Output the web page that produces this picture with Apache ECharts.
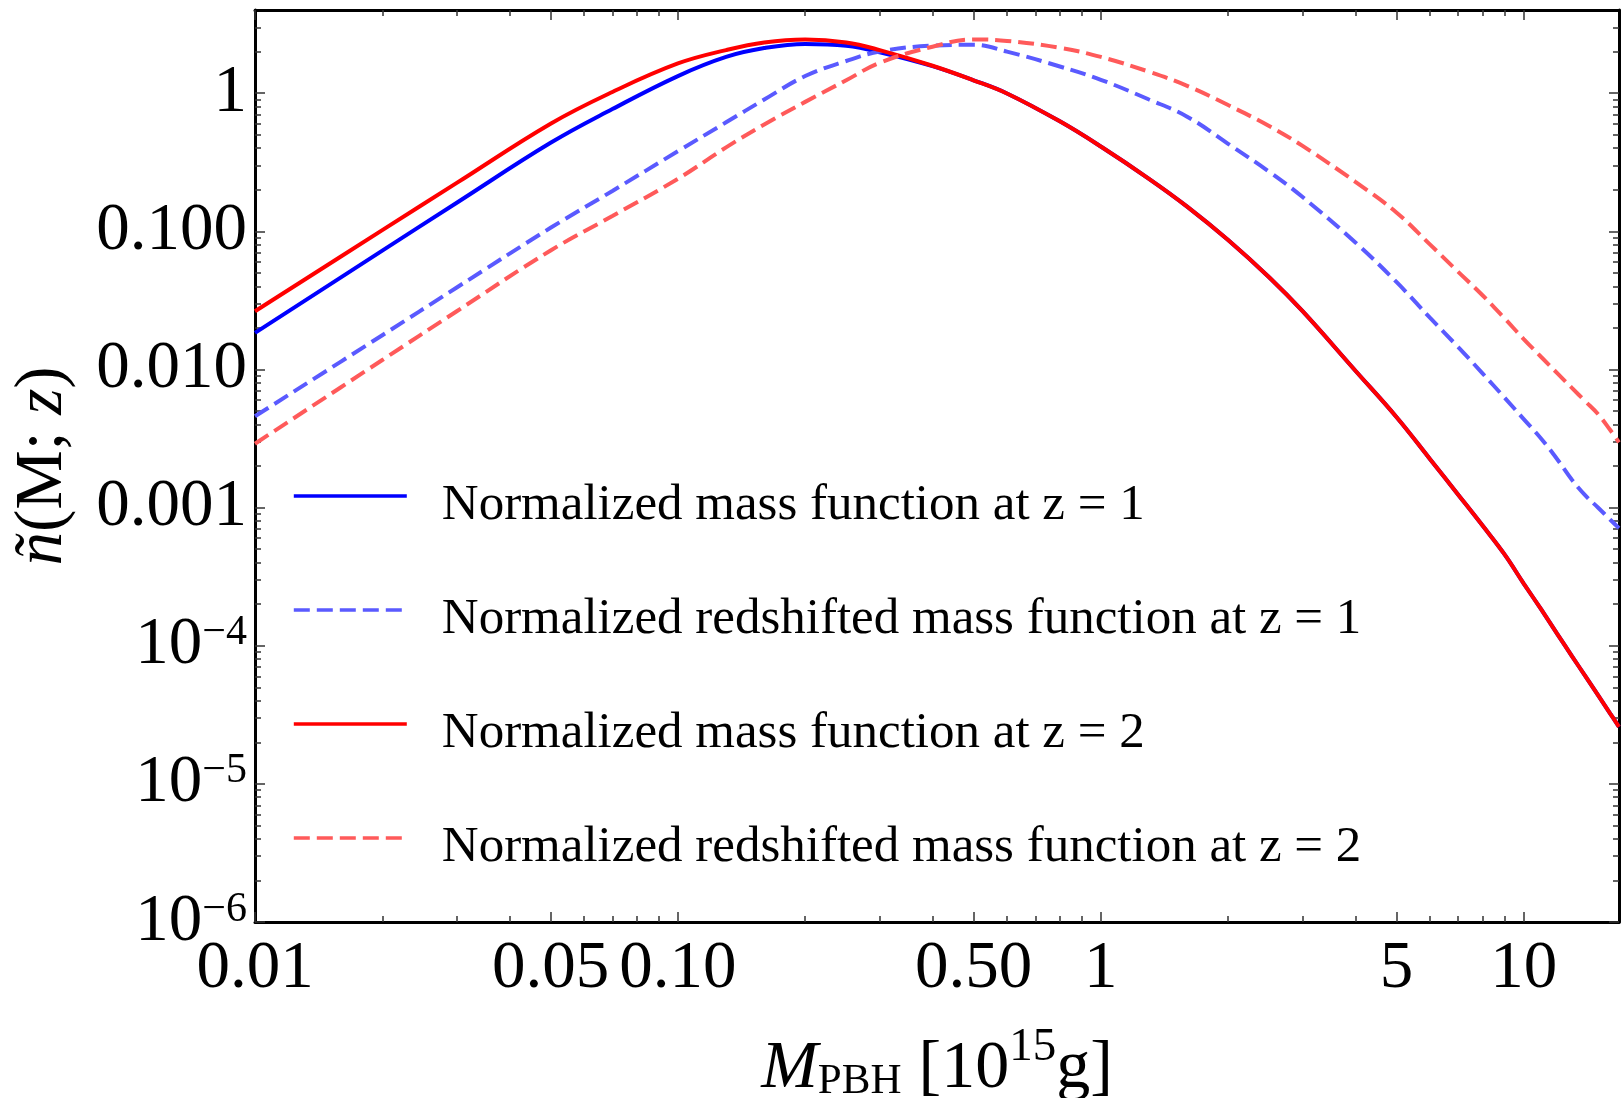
<!DOCTYPE html>
<html>
<head>
<meta charset="utf-8">
<script src="https://cdn.jsdelivr.net/npm/echarts@6/dist/echarts.min.js"></script>
<style>
html,body{margin:0;padding:0;background:#fff;}
#chart{width:1622px;height:1098px;}
</style>
</head>
<body>
<div id="chart"></div>
<script>
// ---------------- data ----------------
const mass = [0.01, 0.02, 0.03, 0.05, 0.07, 0.1, 0.13, 0.16, 0.2, 0.25, 0.3, 0.4, 0.5, 0.6, 0.8, 1,
  1.3, 1.6, 2, 2.5, 3, 4, 5, 6, 7, 8, 9, 10, 11, 12, 13, 14, 15, 16, 16.8];

const massFnZ1 = [0.0184, 0.0724, 0.161, 0.437, 0.767, 1.33, 1.83, 2.12, 2.27, 2.20, 1.98, 1.57, 1.24, 0.995, 0.625, 0.411,
  0.240, 0.151, 0.0865, 0.0465, 0.0264, 0.00979, 0.00453, 0.00225, 0.00124, 0.000738, 0.00046, 0.000282, 0.000183, 0.000122, 0.0000841, 0.000060, 0.0000437, 0.0000324, 0.0000259];

const redshiftedZ1 = [0.00458, 0.0177, 0.0392, 0.106, 0.196, 0.380, 0.615, 0.899, 1.33, 1.71, 2.00, 2.21, 2.24, 2.00, 1.56, 1.25,
  0.90, 0.676, 0.43, 0.27, 0.177, 0.083, 0.0430, 0.0237, 0.0145, 0.00933, 0.00627, 0.00437, 0.00315, 0.00224, 0.00159, 0.00122, 0.000998, 0.00082, 0.00071];

const massFnZ2 = [0.0264, 0.102, 0.224, 0.601, 1.02, 1.64, 2.05, 2.33, 2.45, 2.33, 2.05, 1.58, 1.24, 0.995, 0.625, 0.411,
  0.240, 0.151, 0.0865, 0.0465, 0.0264, 0.00979, 0.00453, 0.00225, 0.00124, 0.000738, 0.00046, 0.000282, 0.000183, 0.000122, 0.0000841, 0.000060, 0.0000437, 0.0000324, 0.0000259];

const redshiftedZ2 = [0.0029, 0.0117, 0.0264, 0.0726, 0.129, 0.240, 0.405, 0.594, 0.865, 1.24, 1.66, 2.17, 2.45, 2.39, 2.13, 1.83,
  1.43, 1.13, 0.82, 0.578, 0.415, 0.228, 0.137, 0.0804, 0.0509, 0.0343, 0.0235, 0.0166, 0.0123, 0.0094, 0.00735, 0.00586, 0.00474, 0.00366, 0.00297];

const seriesNames = [
  'Normalized mass function at z = 1',
  'Normalized redshifted mass function at z = 1',
  'Normalized mass function at z = 2',
  'Normalized redshifted mass function at z = 2'
];

const xMajorTicks = [0.01, 0.05, 0.1, 0.5, 1, 5, 10];
const xTickLabels = ['0.01', '0.05', '0.10', '0.50', '1', '5', '10'];
const xMinorTicks = [0.02, 0.03, 0.04, 0.06, 0.07, 0.08, 0.09, 0.2, 0.3, 0.4, 0.6, 0.7, 0.8, 0.9, 2, 3, 4, 6, 7, 8, 9];

const yMajorTicks = [1e-6, 1e-5, 1e-4, 1e-3, 1e-2, 1e-1, 1];
const yTickLabels = ['10^\u22126', '10^\u22125', '10^\u22124', '0.001', '0.010', '0.100', '1'];
const yMinorTicks = [];
for (let k = -6; k <= -1; k++) {
  for (let m = 2; m <= 9; m++) yMinorTicks.push(m * Math.pow(10, k));
}
yMinorTicks.push(2, 3);

const X_MIN = 0.01, X_MAX = 16.8, Y_MIN = 1e-6, Y_MAX = 4;

// ---------------- chart ----------------
const FONT = '"Liberation Serif", "Times New Roman", Times, serif';

function findIdx(v, arr) {
  for (let i = 0; i < arr.length; i++) {
    if (Math.abs(Math.log10(v) - Math.log10(arr[i])) < 1e-6) return i;
  }
  return -1;
}

const tickColor = '#333';
const majorTick = (vals) => ({show: true, inside: true, length: 10, customValues: vals, lineStyle: {color: tickColor, width: 1.5}});
const minorTick = (vals) => ({show: true, inside: true, length: 6, customValues: vals, lineStyle: {color: tickColor, width: 1.5}});
const frameLine = {show: true, onZero: false, lineStyle: {color: '#000', width: 3}};
const noLine = {show: false, onZero: false};

function xBase(pos) {
  return {type: 'log', logBase: 10, min: X_MIN, max: X_MAX, position: pos, gridIndex: 0,
    splitLine: {show: false}, minorTick: {show: false}, axisLabel: {show: false}, axisLine: noLine};
}
function yBase(pos) {
  return {type: 'log', logBase: 10, min: Y_MIN, max: Y_MAX, position: pos, gridIndex: 0,
    splitLine: {show: false}, minorTick: {show: false}, axisLabel: {show: false}, axisLine: noLine};
}

const xAxes = [
  Object.assign(xBase('bottom'), {
    axisLine: frameLine,
    axisTick: majorTick(xMajorTicks),
    axisLabel: {
      show: true, customValues: xMajorTicks,
      formatter: (v) => { const i = findIdx(v, xMajorTicks); return i >= 0 ? xTickLabels[i] : ''; },
      fontSize: 67, fontFamily: FONT, color: '#000', margin: 14
    },
    name: '{i|M}{sub|PBH}{n| [10}{sup|15}{n|g]}',
    nameLocation: 'middle',
    nameGap: 113,
    nameTextStyle: {
      color: '#000',
      rich: {
        i: {fontFamily: FONT, fontStyle: 'italic', fontSize: 68, color: '#000', lineHeight: 68},
        sub: {fontFamily: FONT, fontSize: 43, color: '#000', verticalAlign: 'bottom', lineHeight: 46},
        n: {fontFamily: FONT, fontSize: 68, color: '#000', lineHeight: 68},
        sup: {fontFamily: FONT, fontSize: 47, color: '#000', verticalAlign: 'top', lineHeight: 26, height: 26}
      }
    }
  }),
  Object.assign(xBase('bottom'), {axisTick: minorTick(xMinorTicks)}),
  Object.assign(xBase('top'), {axisLine: frameLine, axisTick: majorTick(xMajorTicks)}),
  Object.assign(xBase('top'), {axisTick: minorTick(xMinorTicks)})
];

const yAxes = [
  Object.assign(yBase('left'), {
    axisLine: frameLine,
    axisTick: majorTick(yMajorTicks),
    axisLabel: {
      show: true, customValues: yMajorTicks,
      formatter: (v) => {
        const i = findIdx(v, yMajorTicks);
        if (i < 0) return '';
        const s = yTickLabels[i];
        if (s.indexOf('^') >= 0) {
          const p = s.split('^');
          return '{b|' + p[0] + '}{s|' + p[1] + '}';
        }
        return '{b|' + s + '}';
      },
      margin: 8,
      rich: {
        b: {fontFamily: FONT, fontSize: 67, color: '#000', lineHeight: 67},
        s: {fontFamily: FONT, fontSize: 42, color: '#000', verticalAlign: 'top', lineHeight: 32}
      }
    },
    name: '{i|\u00f1}{n|(M; }{i|z}{n|)}',
    nameLocation: 'middle',
    nameGap: 178,
    nameTextStyle: {
      color: '#000',
      rich: {
        i: {fontFamily: FONT, fontStyle: 'italic', fontSize: 67, color: '#000'},
        n: {fontFamily: FONT, fontSize: 67, color: '#000'}
      }
    }
  }),
  Object.assign(yBase('left'), {axisTick: minorTick(yMinorTicks)}),
  Object.assign(yBase('right'), {axisLine: frameLine, axisTick: majorTick(yMajorTicks)}),
  Object.assign(yBase('right'), {axisTick: minorTick(yMinorTicks)})
];

function pairs(ys) { return mass.map((m, i) => [m, ys[i]]); }

const styles = [
  {color: '#0000ff', type: 'solid'},
  {color: '#5a5aff', type: [16, 7]},
  {color: '#ff0000', type: 'solid'},
  {color: '#ff5a5a', type: [16, 7]}
];
const dataSets = [massFnZ1, redshiftedZ1, massFnZ2, redshiftedZ2];

const series = dataSets.map((ys, k) => ({
  name: seriesNames[k],
  type: 'line',
  xAxisIndex: 0,
  yAxisIndex: 0,
  data: pairs(ys),
  symbol: 'none',
  showSymbol: false,
  smooth: 0.4,
  clip: true,
  lineStyle: {color: styles[k].color, width: 4, type: styles[k].type},
  itemStyle: {color: styles[k].color},
  emphasis: {disabled: true},
  z: 2 + k
}));

const option = {
  backgroundColor: '#fff',
  animation: false,
  grid: {left: 255, right: 3, top: 10, bottom: 176, outerBoundsMode: 'none', containLabel: false},
  xAxis: xAxes,
  yAxis: yAxes,
  legend: {
    orient: 'vertical',
    left: 292,
    top: 480,
    padding: 0,
    itemWidth: 113,
    itemHeight: 14,
    itemGap: 63,
    selectedMode: false,
    data: seriesNames,
    itemStyle: {opacity: 0},
    lineStyle: {width: 3.6},
    formatter: (name) => '{sp| }{t|' + name + '}',
    textStyle: {
      fontFamily: FONT, fontSize: 51, color: '#000',
      rich: {
        sp: {width: 30, fontSize: 10, lineHeight: 70},
        t: {fontFamily: FONT, fontSize: 51, color: '#000', lineHeight: 46, verticalAlign: 'bottom'}
      }
    }
  },
  series: series
};

const chart = echarts.init(document.getElementById('chart'), null, {renderer: 'canvas'});
chart.setOption(option);
</script>
</body>
</html>
